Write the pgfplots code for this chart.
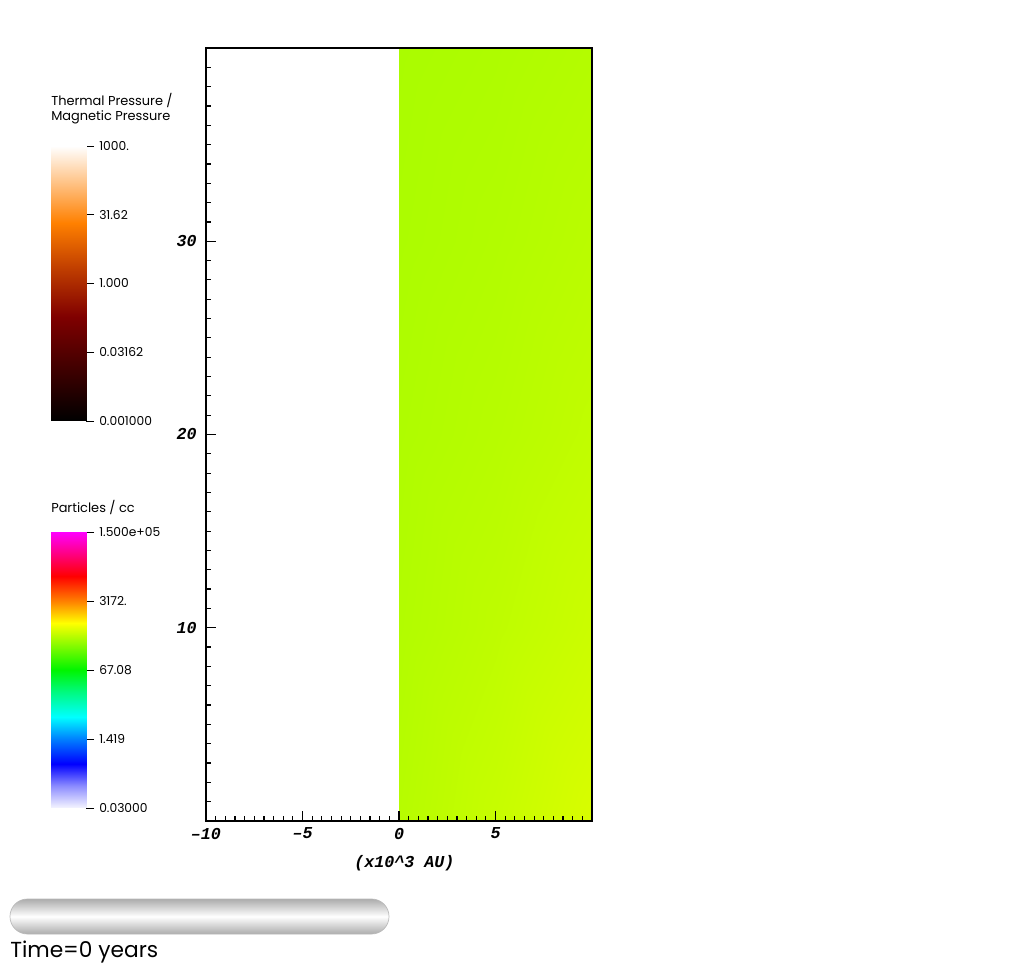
\documentclass[border=0pt]{standalone}
\usepackage{fontspec}
\setmainfont{Poppins}
\newfontfamily\tickfont{Liberation Mono}
\usepackage{pgfplots}
\pgfplotsset{compat=1.18}
\pgfplotsset{
  colormap={thermal}{rgb255(0pt)=(0,0,0) rgb255(38pt)=(128,0,0) rgb255(55pt)=(190,60,0) rgb255(72pt)=(255,128,0) rgb255(100pt)=(255,255,255)},
  colormap={particles}{rgb255(0pt)=(245,245,255) rgb255(8pt)=(140,140,255) rgb255(16pt)=(0,0,255) rgb255(25pt)=(0,128,255) rgb255(33pt)=(0,255,255) rgb255(42pt)=(0,250,128) rgb255(50pt)=(0,245,0) rgb255(67pt)=(255,255,0) rgb255(75pt)=(255,128,0) rgb255(84pt)=(255,0,0) rgb255(92pt)=(255,0,128) rgb255(100pt)=(255,0,255)},
}
\pgfplotstableread{
x y c
0 0 2.6420
5 0 2.7150
10 0 2.7930
0 10 2.6215
5 10 2.6751
10 10 2.7330
0 20 2.6081
5 20 2.6438
10 20 2.6885
0 30 2.5947
5 30 2.6215
10 30 2.6572
0 40 2.5857
5 40 2.6036
10 40 2.6304
}\densitytable
\begin{document}
\begin{tikzpicture}
\path[use as bounding box] (0,0) rectangle (770.25pt,725.25pt);
% main field axis
\begin{axis}[
  at={(154.5pt,109.5pt)}, anchor=south west, scale only axis,
  width=289.5pt, height=579.75pt,
  xmin=-10, xmax=10, ymin=0, ymax=40,
  xtick={-10,-5,0,5}, xticklabels={\textendash10,\textendash5,0,5},
  ytick={10,20,30}, yticklabels={10,20,30},
  minor xtick={-9.5,-9,...,9.5}, minor ytick={1,2,...,39},
  tick align=inside, xtick pos=left, ytick pos=left,
  major tick length=7.5pt, minor tick length=3.75pt,
  tick style={black, line width=0.9pt},
  axis line style={line width=1pt},
  ticklabel style={font=\tickfont\bfseries\itshape\fontsize{12.5}{14}\selectfont, inner sep=0pt},
  xticklabel style={anchor=north, yshift=-5pt},
  yticklabel style={anchor=east, xshift=-6.75pt},
  xlabel={(x10\textasciicircum3 AU)},
  xlabel style={font=\tickfont\bfseries\itshape\fontsize{12.5}{14}\selectfont, at={(axis description cs:0.5,0)}, anchor=base, yshift=-34.5pt, xshift=4pt, inner sep=0pt},
  colormap name=particles, point meta min=-1.5229, point meta max=5.1761,
  axis on top,
]
\addplot[surf, shader=interp, mesh/cols=3, point meta=explicit] table[meta=c] {\densitytable};
\end{axis}
% thermal / magnetic pressure colorbar
\begin{axis}[
  at={(38.25pt,409.5pt)}, anchor=south west, scale only axis,
  width=26.25pt, height=206.25pt,
  xmin=0, xmax=1, ymin=-3, ymax=3,
  hide x axis, axis line style={draw=none}, ytick pos=right,
  ytick={-3,-1.5,0,1.5,3}, yticklabels={0.001000,0.03162,1.000,31.62,1000.},
  tick align=outside, major tick length=6pt, tick style={black, line width=0.6pt},
  yticklabel style={font=\fontsize{9.2}{11}\selectfont, anchor=west, inner sep=0pt, xshift=3.75pt},
  colormap name=thermal, point meta min=-3, point meta max=3,
]
\addplot[surf, shader=interp, mesh/cols=2, point meta=y] coordinates {(0,-3) (1,-3) (0,3) (1,3)};
\end{axis}
% particle density colorbar
\begin{axis}[
  at={(38.25pt,119.25pt)}, anchor=south west, scale only axis,
  width=26.25pt, height=207pt,
  xmin=0, xmax=1, ymin=-1.5229, ymax=5.1761,
  hide x axis, axis line style={draw=none}, ytick pos=right,
  ytick={-1.5229,0.1520,1.8266,3.5014,5.1761}, yticklabels={0.03000,1.419,67.08,3172.,1.500e+05},
  tick align=outside, major tick length=6pt, tick style={black, line width=0.6pt},
  yticklabel style={font=\fontsize{9.2}{11}\selectfont, anchor=west, inner sep=0pt, xshift=3.75pt},
  colormap name=particles, point meta min=-1.5229, point meta max=5.1761,
]
\addplot[surf, shader=interp, mesh/cols=2, point meta=y] coordinates {(0,-1.5229) (1,-1.5229) (0,5.1761) (1,5.1761)};
\end{axis}
% titles
\node[anchor=base west, inner sep=0pt, font=\fontsize{9.7}{11}\selectfont] at (38.25pt,645.75pt) {Thermal Pressure /};
\node[anchor=base west, inner sep=0pt, font=\fontsize{9.7}{11}\selectfont] at (38.25pt,634.5pt) {Magnetic Pressure};
\node[anchor=base west, inner sep=0pt, font=\fontsize{9.7}{11}\selectfont] at (38.25pt,340.5pt) {Particles / cc};
% time slider
\shade[top color=gray!65, bottom color=gray!65, middle color=white, rounded corners=13pt] (7.5pt,24.75pt) rectangle (291.75pt,51pt);
\draw[gray!55, line width=0.5pt, rounded corners=13pt] (7.5pt,24.75pt) rectangle (291.75pt,51pt);
\node[anchor=base west, inner sep=0pt, font=\fontsize{16.3}{19}\selectfont] at (7.5pt,7.5pt) {Time=0 years};
\end{tikzpicture}
\end{document}
